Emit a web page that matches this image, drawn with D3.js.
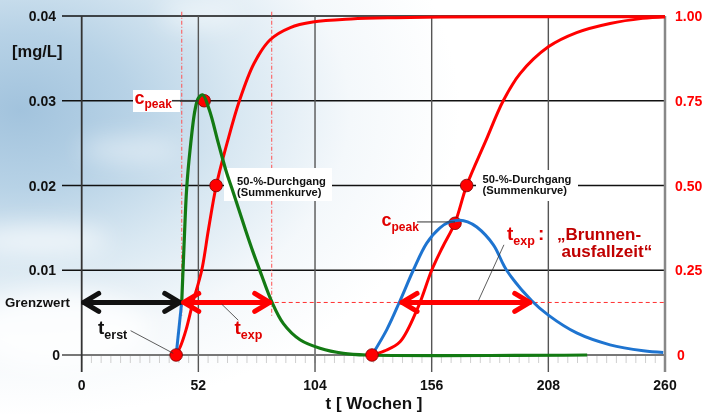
<!DOCTYPE html>
<html>
<head>
<meta charset="utf-8">
<script src="https://cdn.jsdelivr.net/npm/d3@7"></script>
<style>
  html, body { margin: 0; padding: 0; background: #fff; }
  svg { display: block; font-family: "Liberation Sans", Arial, sans-serif; font-weight: bold; }
</style>
</head>
<body>
<div id="chart"></div>
<script>
// x axis: weeks
const xTicks = [0, 52, 104, 156, 208, 260];
// left axis: concentration mg/L
const yTicksLeft = [0, 0.01, 0.02, 0.03, 0.04];
const yLabelsLeft = ["0", "0.01", "0.02", "0.03", "0.04"];
// right axis: cumulative fraction
const yTicksRight = [0, 0.25, 0.5, 0.75, 1.0];
const yLabelsRight = ["0", "0.25", "0.50", "0.75", "1.00"];

const grenzwert = 0.0062;

// first breakthrough curve (green)
const greenT = [44.6, 45.6, 46.8, 48.3, 50.5, 52.0, 53.9, 56.9, 60.9, 64.6, 66.9, 70, 73.2, 76.3, 79.5, 84.7, 89.9, 97.3, 106.2, 116.6, 127, 225.3];
const greenC = [0.0063, 0.0128, 0.0197, 0.0242, 0.0289, 0.0303, 0.0307, 0.0289, 0.0250, 0.0215, 0.0197, 0.0172, 0.0146, 0.0122, 0.0099, 0.0063, 0.0037, 0.0018, 0.0008, 0.0002, 0, 0];

// blue start segment of first curve
const blue1T = [42.1, 44.6];
const blue1C = [0, 0.0063];

// second breakthrough curve (blue)
const blue2T = [129.4, 136, 141.9, 147.8, 153.8, 159.7, 164, 168.6, 172, 176.1, 183.5, 189.4, 200.6, 208, 220.6, 235.5, 250.3, 259.2];
const blue2C = [0, 0.0030, 0.0064, 0.0100, 0.0132, 0.0150, 0.0157, 0.0159, 0.0157, 0.0151, 0.0130, 0.0100, 0.0064, 0.0047, 0.0026, 0.0012, 0.0005, 0.0003];

// cumulative curves (red, right axis)
const cum1T = [42.1, 44, 46.5, 49.6, 53.5, 56.5, 60, 65, 70.3, 76.8, 84, 93, 103, 120, 140, 160, 200, 260];
const cum1F = [0, 0.025, 0.074, 0.156, 0.25, 0.37, 0.5, 0.63, 0.75, 0.86, 0.93, 0.966, 0.982, 0.991, 0.995, 0.997, 0.998, 0.998];
const cum2T = [129.4, 135, 141.9, 150, 156, 161, 166.4, 171.6, 180, 187.9, 195.4, 208, 220.6, 235.5, 250, 260];
const cum2F = [0, 0.012, 0.039, 0.142, 0.25, 0.32, 0.39, 0.5, 0.63, 0.75, 0.83, 0.909, 0.951, 0.978, 0.993, 0.998];

// marked points
const dotsLeft = [[42.1, 0], [54.6, 0.0300], [129.4, 0], [166.4, 0.01554]];
const dotsRight = [[59.9, 0.5], [171.6, 0.5]];

// arrows along Grenzwert (start / end in weeks)
const arrows = [
  { t0: 0, t1: 44.6, color: "#111" },
  { t0: 44.6, t1: 84.7, color: "#ff0000" },
  { t0: 141.9, t1: 200.6, color: "#ff0000" }
];
const dashDotT = [44.6, 84.7];

const W = 704, H = 414;
const x = d3.scaleLinear().domain([0, 260]).range([81.7, 665]);
const yL = d3.scaleLinear().domain([0, 0.04]).range([355, 16]);
const yR = d3.scaleLinear().domain([0, 1]).range([355, 16]);

const svg = d3.select("#chart").append("svg").attr("width", W).attr("height", H);

// ---- background (sky) ----
const defs = svg.append("defs");
const rg = defs.append("radialGradient").attr("id", "sky")
  .attr("gradientUnits", "userSpaceOnUse")
  .attr("cx", 20).attr("cy", 110).attr("r", 440)
  .attr("gradientTransform", "translate(20,110) scale(1,0.7) translate(-20,-110)");
[[0, "#a2c3dd"], [0.25, "#b7d2e6"], [0.5, "#d9e8f2"], [0.75, "#f4f8fb"], [1, "#ffffff"]]
  .forEach(([o, c]) => rg.append("stop").attr("offset", o).attr("stop-color", c));
defs.append("filter").attr("id", "blur").append("feGaussianBlur").attr("stdDeviation", 12);

svg.append("rect").attr("width", W).attr("height", H).attr("fill", "#fff");
svg.append("rect").attr("width", W).attr("height", H).attr("fill", "url(#sky)");
const clouds = svg.append("g").attr("filter", "url(#blur)").attr("fill", "#fff");
clouds.append("ellipse").attr("cx", 40).attr("cy", 240).attr("rx", 70).attr("ry", 14).attr("opacity", 0.7);
clouds.append("ellipse").attr("cx", 130).attr("cy", 150).attr("rx", 50).attr("ry", 12).attr("opacity", 0.5);
clouds.append("ellipse").attr("cx", 60).attr("cy", 330).attr("rx", 90).attr("ry", 40).attr("opacity", 0.8);
clouds.append("ellipse").attr("cx", 200).attr("cy", 15).attr("rx", 40).attr("ry", 10).attr("opacity", 0.6);

// ---- grid ----
const grid = svg.append("g");
// minor ticks (monthly)
const minor = d3.range(0, 260.01, 52 / 12);
grid.selectAll("line.minor").data(minor).enter().append("line")
  .attr("x1", d => x(d)).attr("x2", d => x(d))
  .attr("y1", yL(0)).attr("y2", yL(0) + 8)
  .attr("stroke", "#cfcfcf").attr("stroke-width", 1);

grid.selectAll("line.h").data(yTicksLeft.filter(d => d > 0)).enter().append("line")
  .attr("x1", 62).attr("x2", x(260))
  .attr("y1", d => yL(d)).attr("y2", d => yL(d))
  .attr("stroke", "#111").attr("stroke-width", 1.3);

grid.selectAll("line.v").data(xTicks.slice(1, -1)).enter().append("line")
  .attr("x1", d => x(d)).attr("x2", d => x(d))
  .attr("y1", yL(0.04)).attr("y2", yL(0) + 17)
  .attr("stroke", "#555").attr("stroke-width", 1.4);

// zero line
grid.append("line").attr("x1", 62).attr("x2", x(260))
  .attr("y1", yL(0)).attr("y2", yL(0)).attr("stroke", "#777").attr("stroke-width", 2);
// left and right axis lines
grid.append("line").attr("x1", x(0)).attr("x2", x(0))
  .attr("y1", yL(0.04)).attr("y2", yL(0) + 17).attr("stroke", "#333").attr("stroke-width", 1.8);
grid.append("line").attr("x1", x(260)).attr("x2", x(260))
  .attr("y1", yL(0.04)).attr("y2", yL(0) + 17).attr("stroke", "#888").attr("stroke-width", 2.5);

// ---- threshold dashed and dash-dot lines ----
svg.append("line").attr("x1", x(33)).attr("x2", x(260))
  .attr("y1", yL(grenzwert)).attr("y2", yL(grenzwert))
  .attr("stroke", "#ff3030").attr("stroke-width", 1).attr("stroke-dasharray", "4,3");
svg.selectAll("line.dd").data(dashDotT).enter().append("line")
  .attr("x1", d => x(d)).attr("x2", d => x(d))
  .attr("y1", yL(0.0405)).attr("y2", yL(0.0044))
  .attr("stroke", "#ff5050").attr("stroke-width", 1).attr("stroke-dasharray", "4,2,1,2");

// ---- white label boxes (cover grid) ----
svg.append("rect").attr("x", 133).attr("y", 90).attr("width", 47).attr("height", 22).attr("fill", "#fff");
svg.append("rect").attr("x", 224).attr("y", 168).attr("width", 108).attr("height", 33).attr("fill", "#fff");
svg.append("rect").attr("x", 476).attr("y", 170).attr("width", 102).attr("height", 31).attr("fill", "#fff");

// ---- curves ----
const curve = d3.curveCatmullRom.alpha(0.5);
const lineL = d3.line().x(d => x(d[0])).y(d => yL(d[1])).curve(curve);
const lineR = d3.line().x(d => x(d[0])).y(d => yR(d[1])).curve(curve);
const zip = (a, b) => a.map((v, i) => [v, b[i]]);

svg.append("path").datum(zip(cum1T, cum1F)).attr("d", lineR)
  .attr("fill", "none").attr("stroke", "#ff0000").attr("stroke-width", 3);
svg.append("path").datum(zip(cum2T, cum2F)).attr("d", lineR)
  .attr("fill", "none").attr("stroke", "#ff0000").attr("stroke-width", 3);

// peak dots under the curves
const dot = (sel, data, ys) => sel.selectAll(null).data(data).enter().append("circle")
  .attr("cx", d => x(d[0])).attr("cy", d => ys(d[1])).attr("r", 6.3)
  .attr("fill", "#ff0000").attr("stroke", "#7a0000").attr("stroke-width", 0.8);
dot(svg.append("g"), [dotsLeft[1], dotsLeft[3]], yL);

svg.append("path").datum(zip(greenT, greenC)).attr("d", lineL)
  .attr("fill", "none").attr("stroke", "#137a13").attr("stroke-width", 3.2);
svg.append("path").datum(zip(blue1T, blue1C)).attr("d", lineL)
  .attr("fill", "none").attr("stroke", "#1e74d0").attr("stroke-width", 3);
svg.append("path").datum(zip(blue2T, blue2C)).attr("d", lineL)
  .attr("fill", "none").attr("stroke", "#1e74d0").attr("stroke-width", 3);

dot(svg.append("g"), [dotsLeft[0], dotsLeft[2]], yL);
dot(svg.append("g"), dotsRight, yR);

// ---- arrows ----
arrows.forEach(a => {
  const g = svg.append("g").attr("stroke", a.color).attr("fill", "none")
    .attr("stroke-width", 5).attr("stroke-linecap", "round").attr("stroke-linejoin", "round");
  const y0 = yL(grenzwert), xa = x(a.t0) + 2, xb = x(a.t1) - 2;
  g.append("line").attr("x1", xa).attr("x2", xb).attr("y1", y0).attr("y2", y0);
  g.append("path").attr("d", `M${xa + 15},${y0 - 9}L${xa},${y0}L${xa + 15},${y0 + 9}`);
  g.append("path").attr("d", `M${xb - 15},${y0 - 9}L${xb},${y0}L${xb - 15},${y0 + 9}`);
});

// ---- leader lines ----
const leaders = [
  [[21.8, 0.00287], [40.8, 0.0002], 0.8],
  [[62.4, 0.0060], [69.8, 0.0041], 0.8],
  [[176.8, 0.0064], [188.2, 0.0130], 0.8],
  [[40.2, 0.0300], [52.0, 0.0300], 1.6],
  [[149.5, 0.0157], [166.4, 0.0157], 1]
];
leaders.forEach(([p, q, w]) => svg.append("line")
  .attr("x1", x(p[0])).attr("y1", yL(p[1])).attr("x2", x(q[0])).attr("y2", yL(q[1]))
  .attr("stroke", "#333").attr("stroke-width", w));

// ---- axis labels ----
svg.selectAll("text.yl").data(yTicksLeft).enter().append("text")
  .attr("x", (d, i) => i === 0 ? 60 : 56).attr("y", d => yL(d)).attr("dy", "0.36em")
  .attr("text-anchor", "end").attr("font-size", 14).attr("fill", "#111")
  .text((d, i) => yLabelsLeft[i]);
svg.selectAll("text.yr").data(yTicksRight).enter().append("text")
  .attr("x", (d, i) => i === 0 ? 677 : 675).attr("y", d => yR(d)).attr("dy", "0.36em")
  .attr("font-size", 14).attr("fill", "#ff0000")
  .text((d, i) => yLabelsRight[i]);
svg.selectAll("text.xt").data(xTicks).enter().append("text")
  .attr("x", d => x(d)).attr("y", 390).attr("text-anchor", "middle")
  .attr("font-size", 14).attr("fill", "#111").text(d => d);

svg.append("text").attr("x", 374).attr("y", 409).attr("text-anchor", "middle")
  .attr("font-size", 17).attr("fill", "#111").text("t [ Wochen ]");
svg.append("text").attr("x", 12).attr("y", 57).attr("font-size", 16.5).attr("fill", "#111").text("[mg/L]");
svg.append("text").attr("x", 5).attr("y", 307).attr("font-size", 13.3).attr("fill", "#111").text("Grenzwert");

// ---- annotations ----
function sub(xp, yp, main, subTxt, color, size, subSize, extra) {
  const t = svg.append("text").attr("x", xp).attr("y", yp).attr("fill", color).attr("font-size", size);
  t.append("tspan").text(main);
  t.append("tspan").attr("font-size", subSize).attr("dy", 4.5).text(subTxt);
  if (extra) t.append("tspan").attr("dy", -4.5).attr("dx", 3).text(extra);
}
sub(98, 334, "t", "erst", "#111", 19, 12.5);
sub(134.5, 103.5, "c", "peak", "#e00000", 18, 12);
sub(234.5, 334, "t", "exp", "#e00000", 19, 12.5);
sub(381.5, 226, "c", "peak", "#e00000", 18, 12);
sub(507, 240, "t", "exp", "#e00000", 19, 12.5, ":");

svg.append("text").attr("x", 557).attr("y", 240).attr("font-size", 17).attr("fill", "#c00000").text("\u201EBrunnen-");
svg.append("text").attr("x", 561.5).attr("y", 257).attr("font-size", 17).attr("fill", "#c00000").text("ausfallzeit\u201C");

[[237, 184.5], [482.5, 182.5]].forEach(([xp, yp]) => {
  svg.append("text").attr("x", xp).attr("y", yp).attr("font-size", 11.2).attr("fill", "#111").text("50-%-Durchgang");
  svg.append("text").attr("x", xp).attr("y", yp + 11).attr("font-size", 11.2).attr("fill", "#111").text("(Summenkurve)");
});
</script>
</body>
</html>
